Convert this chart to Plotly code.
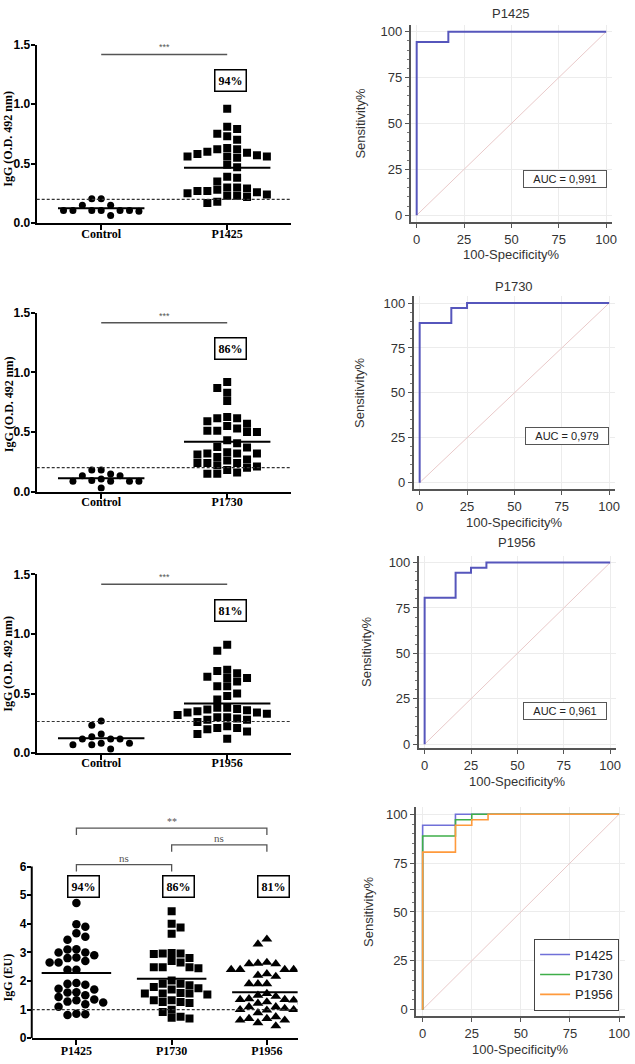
import numpy as np
import plotly.graph_objects as go

W, H = 635, 1064

# ---------------- data ----------------
peptides = ["P1425", "P1730", "P1956"]
control_p1425 = [0.105, 0.105, 0.10, 0.205, 0.15, 0.065, 0.205, 0.15, 0.105, 0.105, 0.105, 0.105]
p1425_od = [0.96, 0.81, 0.79, 0.75, 0.73, 0.70, 0.63, 0.62, 0.62, 0.60, 0.59, 0.58,
            0.57, 0.56, 0.56, 0.56, 0.55, 0.49, 0.47, 0.39, 0.38, 0.35, 0.30, 0.30,
            0.29, 0.28, 0.27, 0.27, 0.26, 0.25, 0.24, 0.23, 0.23, 0.22, 0.18, 0.17]
control_p1730 = [0.105, 0.18, 0.086, 0.133, 0.133, 0.086, 0.03, 0.147, 0.086, 0.18, 0.086, 0.092]
p1730_od = [0.92, 0.87, 0.83, 0.76, 0.625, 0.615, 0.615, 0.59, 0.57, 0.55, 0.53, 0.51,
            0.51, 0.50, 0.50, 0.43, 0.405, 0.375, 0.37, 0.33, 0.32, 0.32, 0.32, 0.31,
            0.29, 0.27, 0.26, 0.24, 0.24, 0.24, 0.22, 0.21, 0.20, 0.18, 0.16, 0.15, 0.15]
control_p1956 = [0.118, 0.082, 0.233, 0.27, 0.137, 0.069, 0.118, 0.033, 0.16, 0.069, 0.082, 0.118]
p1956_od = [0.91, 0.86, 0.70, 0.69, 0.67, 0.64, 0.63, 0.63, 0.60, 0.56, 0.56, 0.50,
            0.48, 0.45, 0.38, 0.38, 0.37, 0.365, 0.36, 0.35, 0.34, 0.34, 0.33, 0.32,
            0.30, 0.30, 0.29, 0.28, 0.28, 0.26, 0.225, 0.21, 0.21, 0.20, 0.18, 0.16, 0.12]
cutoff_od = [0.20, 0.20, 0.265]
positivity = ["94%", "86%", "81%"]
od_ticks = [0.0, 0.5, 1.0, 1.5]

p1425_eu = [4.73, 3.98, 3.90, 3.67, 3.55, 3.44, 3.11, 3.10, 3.00, 3.00, 2.90, 2.82,
            2.80, 2.70, 2.65, 2.65, 2.39, 2.39, 1.93, 1.90, 1.87, 1.73, 1.61, 1.50,
            1.44, 1.35, 1.33, 1.28, 1.25, 1.19, 1.10, 1.60, 1.70, 0.86, 0.84, 0.81]
p1730_eu = [4.44, 4.00, 3.87, 3.65, 2.98, 2.96, 2.96, 2.94, 2.80, 2.70, 2.65, 2.48,
            2.48, 2.48, 2.45, 2.02, 1.90, 1.79, 1.58, 1.56, 1.56, 1.56, 1.53, 1.33,
            1.33, 1.27, 1.27, 1.23, 1.90, 1.75, 1.70, 1.00, 0.92, 1.85, 0.75, 0.72, 0.69]
p1956_eu = [3.46, 3.29, 2.65, 2.62, 2.60, 2.60, 2.40, 2.40, 2.40, 2.40, 2.25, 2.20,
            2.16, 1.90, 1.90, 1.90, 1.56, 1.50, 1.46, 1.38, 1.35, 1.35, 1.33, 1.27,
            1.27, 1.22, 1.10, 1.10, 1.04, 1.00, 1.00, 0.98, 0.89, 0.75, 0.69, 0.69,
            0.63, 0.63, 0.54, 0.43]
cutoff_eu = 1.0
eu_ticks = [0, 1, 2, 3, 4, 5, 6]
eu_comparisons = [("P1425", "P1956", "**"), ("P1730", "P1956", "ns"), ("P1425", "P1730", "ns")]

roc_p1425_fpr = [0, 0, 16.7, 16.7, 100]
roc_p1425_tpr = [0, 94.4, 94.4, 100, 100]
roc_p1730_fpr = [0, 0, 16.7, 16.7, 25, 25, 100]
roc_p1730_tpr = [0, 88.9, 88.9, 97.2, 97.2, 100, 100]
roc_p1956_fpr = [0, 0, 16.7, 16.7, 25, 25, 33.3, 33.3, 100]
roc_p1956_tpr = [0, 80.6, 80.6, 94.4, 94.4, 97.2, 97.2, 100, 100]
diag = [0, 100]
auc_text = ["0,991", "0,979", "0,961"]
roc_ticks = [0, 25, 50, 75, 100]

# ---------------- helpers ----------------
def fx(px):
    return px / W


def fy(py):
    return 1 - py / H


def swarm(vals, sx, sy, w, h, step):
    v = np.asarray(vals, float)
    order = np.argsort(-v, kind="stable")
    placed = []
    offs = np.zeros(len(v))
    for n, i in enumerate(order):
        y = v[i] * sy
        sign = 1 if n % 2 == 0 else -1
        cands = [0.0]
        for k in range(1, 80):
            cands += [sign * k * step, -sign * k * step]
        for c in cands:
            if all(abs(c - px) >= w or abs(y - py) >= h for px, py in placed):
                break
        placed.append((c, y))
        offs[i] = c / sx
    return offs


def aid(i):
    return "" if i == 1 else str(i)


SERIF = "Liberation Serif"
SANS = "Liberation Sans"

fig = go.Figure()
layout = dict(width=W, height=H, margin=dict(l=0, r=0, t=0, b=0),
              paper_bgcolor="white", plot_bgcolor="white", showlegend=True)
shapes, annos = [], []


def anno(**kw):
    kw.setdefault("xanchor", "center")
    kw.setdefault("yanchor", "middle")
    kw.setdefault("showarrow", False)
    annos.append(kw)


# ---------------- left panels 1-3 (OD) ----------------
controls = [control_p1425, control_p1730, control_p1956]
peps_od = [p1425_od, p1730_od, p1956_od]
ydom = [(38, 219), (310, 491), (575, 756)]
ytitle_c = [133, 402, 665]
XS, YS = 127.0, 120.0
for k in range(3):
    i = k + 1
    xr, yr = "x" + aid(i), "y" + aid(i)
    oc = swarm(controls[k], XS, YS, 9.5, 7, 4.75)
    op = swarm(peps_od[k], XS, YS, 8.5, 8, 5)
    fig.add_trace(go.Scatter(x=0 + oc, y=controls[k], mode="markers", xaxis=xr, yaxis=yr,
                             marker=dict(symbol="circle", size=7, color="black"), showlegend=False))
    fig.add_trace(go.Scatter(x=1 + op, y=peps_od[k], mode="markers", xaxis=xr, yaxis=yr,
                             marker=dict(symbol="square", size=8, color="black"), showlegend=False))
    layout["xaxis" + aid(i)] = dict(
        domain=[fx(37), fx(293)], range=[-0.512, 1.504], anchor=yr,
        tickvals=[0, 1], ticktext=["Control", peptides[k]], ticks="outside", ticklen=5,
        tickwidth=1.5, tickcolor="black", showline=True, linewidth=2, linecolor="black",
        showgrid=False, zeroline=False, ticklabelstandoff=-7,
        tickfont=dict(family=SERIF, size=12, color="black", weight="bold"))
    layout["yaxis" + aid(i)] = dict(
        domain=[fy(ydom[k][1]), fy(ydom[k][0])], range=[0, 1.5], anchor=xr,
        tickvals=od_ticks, tickformat=".1f", ticks="outside", ticklen=4, tickwidth=1.5,
        tickcolor="black", showline=True, linewidth=2, linecolor="black",
        showgrid=False, zeroline=False, ticklabelstandoff=-2,
        tickfont=dict(family=SANS, size=12, color="black", weight="bold"))
    for cx, vals in ((0, controls[k]), (1, peps_od[k])):
        m = float(np.mean(vals))
        shapes.append(dict(type="line", xref=xr, yref=yr, x0=cx - 0.343, x1=cx + 0.343,
                           y0=m, y1=m, line=dict(color="black", width=2)))
    shapes.append(dict(type="line", xref=xr + " domain", yref=yr, x0=0, x1=1,
                       y0=cutoff_od[k], y1=cutoff_od[k],
                       line=dict(color="#333", width=1.2, dash="3px,2px")))
    shapes.append(dict(type="line", xref=xr, yref=yr, x0=0, x1=1, y0=1.417, y1=1.417,
                       line=dict(color="#555", width=1.5)))
    anno(text="***", x=0.5, y=1.417, xref=xr, yref=yr, yanchor="bottom",
         font=dict(family=SANS, size=9, color="#555"))
    anno(text="<b>" + positivity[k] + "</b>", x=1.03, y=1.2, xref=xr, yref=yr,
         bordercolor="black", borderwidth=1.5, borderpad=3,
         bgcolor="white", font=dict(family=SERIF, size=12, color="black"))
    anno(text="<b>IgG (O.D. 492 nm)</b>", textangle=-90, x=fx(8.5), y=fy(ytitle_c[k]),
         xref="paper", yref="paper", font=dict(family=SERIF, size=12, color="black"))

# ---------------- left panel 4 (EU) ----------------
XS4, YS4 = 96.0, 29.0
symbols = ["circle", "square", "triangle-up"]
sizes = [8.5, 8, 9.5]
peps_eu = [p1425_eu, p1730_eu, p1956_eu]
for j in range(3):
    o = swarm(peps_eu[j], XS4, YS4, 8.5, 8, 4.5)
    fig.add_trace(go.Scatter(x=j + o, y=peps_eu[j], mode="markers", xaxis="x4", yaxis="y4",
                             marker=dict(symbol=symbols[j], size=sizes[j], color="black"),
                             showlegend=False))
    m = float(np.mean(peps_eu[j]))
    shapes.append(dict(type="line", xref="x4", yref="y4", x0=j - 0.365, x1=j + 0.365,
                       y0=m, y1=m, line=dict(color="black", width=2)))
    anno(text="<b>" + positivity[j] + "</b>", x=j + 0.07, y=5.3, xref="x4", yref="y4",
         bordercolor="black", borderwidth=1.5, borderpad=3,
         bgcolor="white", font=dict(family=SERIF, size=12, color="black"))
layout["xaxis4"] = dict(
    domain=[fx(32), fx(300)], range=[-0.469, 2.323], anchor="y4",
    tickvals=[0, 1, 2], ticktext=peptides, ticks="outside", ticklen=5, tickwidth=1.5,
    tickcolor="black", showline=True, linewidth=2, linecolor="black", showgrid=False,
    zeroline=False, ticklabelstandoff=-5,
    tickfont=dict(family=SERIF, size=12, color="black", weight="bold"))
layout["yaxis4"] = dict(
    domain=[fy(1045), fy(1045 - 7.5 * YS4)], range=[0, 7.5], anchor="x4",
    tickvals=eu_ticks, ticks="outside", ticklen=4, tickwidth=1.5, tickcolor="black",
    showline=False, showgrid=False, zeroline=False, ticklabelstandoff=-2,
    tickfont=dict(family=SANS, size=12, color="black", weight="bold"))
shapes.append(dict(type="line", xref="x4 domain", yref="y4", x0=0, x1=0, y0=0, y1=eu_ticks[-1],
                   line=dict(color="black", width=2)))
shapes.append(dict(type="line", xref="x4 domain", yref="y4", x0=0, x1=1,
                   y0=cutoff_eu, y1=cutoff_eu, line=dict(color="#333", width=1.2, dash="3px,2px")))
bracket_y = [7.34, 6.76, 6.07]
for (a, b, lab), by in zip(eu_comparisons, bracket_y):
    xa, xb = peptides.index(a), peptides.index(b)
    shapes.append(dict(type="path", xref="x4", yref="y4",
                       path=f"M {xa},{by - 0.24} L {xa},{by} L {xb},{by} L {xb},{by - 0.24}",
                       line=dict(color="#555", width=1.3)))
    anno(text=lab, x=(xa + xb) / 2, y=by, xref="x4", yref="y4", yanchor="bottom", yshift=-1,
         font=dict(family=SERIF, size=11 if lab == "ns" else 10, color="#555"))
anno(text="<b>IgG (EU)</b>", textangle=-90, x=fx(8.5), y=fy(983),
     xref="paper", yref="paper", font=dict(family=SERIF, size=12, color="black"))

# ---------------- ROC panels ----------------
roc_geo = [  # x0px, xscale, y0px, yscale, xrange, yrange
    (420, 1.91, 211, 1.86, (-3.2, 103.2), (-3.8, 103.8)),
    (423, 1.91, 482, 1.82, (-3.2, 103.2), (-3.8, 103.8)),
    (428, 1.87, 747, 1.84, (-3.2, 103.2), (-2.2, 103.8)),
    (426, 1.98, 1016, 1.98, (-3.4, 103.0), (-3.4, 103.5)),
]
roc_titles = [("P1425", 7), ("P1730", 283), ("P1956", 543), (None, None)]
xlabel_y = [251, 522, 785, 1056]
ylabel_x = [363, 363, 370, 372]
auc_pos = [(78.5, 19.9), (77.7, 25.8), (75.7, 18.5)]
roc_fprs = [roc_p1425_fpr, roc_p1730_fpr, roc_p1956_fpr]
roc_tprs = [roc_p1425_tpr, roc_p1730_tpr, roc_p1956_tpr]
roc_colors4 = ["#7070d8", "#3fae49", "#ff9a3c"]

for r in range(4):
    i = r + 5
    xr, yr = "x" + str(i), "y" + str(i)
    x0, xs, y0, ys, xrg, yrg = roc_geo[r]
    left, right = x0 + xrg[0] * xs, x0 + xrg[1] * xs
    bottom, top = y0 - yrg[0] * ys, y0 - yrg[1] * ys
    fig.add_trace(go.Scatter(x=diag, y=diag, mode="lines", xaxis=xr, yaxis=yr,
                             line=dict(color="#e9c9c9", width=1), showlegend=False))
    if r < 3:
        fig.add_trace(go.Scatter(x=roc_fprs[r], y=roc_tprs[r], mode="lines", xaxis=xr, yaxis=yr,
                                 line=dict(color="#5656bc", width=2), showlegend=False))
        ax_, ay_ = auc_pos[r]
        anno(text="AUC = " + auc_text[r], x=ax_, y=ay_, xref=xr, yref=yr,
             bordercolor="#555", borderwidth=1, borderpad=2,
             width=78, bgcolor="white", font=dict(family=SANS, size=11, color="#222"))
    else:
        for j in range(3):
            fig.add_trace(go.Scatter(x=roc_fprs[j], y=roc_tprs[j], mode="lines", xaxis=xr, yaxis=yr,
                                     name=peptides[j], line=dict(color=roc_colors4[j], width=1.6),
                                     showlegend=True))
    common = dict(showline=True, linewidth=1.5, linecolor="#555", showgrid=True,
                  gridcolor="#ececec", gridwidth=1, zeroline=False, ticks="outside",
                  ticklen=4, tickcolor="#555", tickvals=roc_ticks,
                  tickfont=dict(family=SANS, size=13, color="#333"))
    layout["xaxis" + str(i)] = dict(domain=[fx(left), fx(right)], range=list(xrg), anchor=yr, **common)
    layout["yaxis" + str(i)] = dict(domain=[fy(bottom), fy(top)], range=list(yrg), anchor=xr,
                                    minor=dict(dtick=5, ticks="outside", ticklen=2, tickcolor="#777",
                                               showgrid=False), **common)
    cx = (fx(x0) + fx(x0 + 100 * xs)) / 2
    if roc_titles[r][0]:
        anno(text=roc_titles[r][0], x=cx, y=fy(roc_titles[r][1]), xref="paper",
             yref="paper", font=dict(family=SANS, size=13, color="#333"))
    anno(text="100-Specificity%", x=cx, y=fy(xlabel_y[r]), xref="paper", yref="paper",
         font=dict(family=SANS, size=13, color="#333"))
    anno(text="Sensitivity%", textangle=-90, x=fx(ylabel_x[r]), y=fy((top + bottom) / 2),
         xref="paper", yref="paper", font=dict(family=SANS, size=13, color="#333"))

layout["legend"] = dict(x=fx(624), xanchor="right", y=fy(1017), yanchor="bottom",
                        bordercolor="#444", borderwidth=1, bgcolor="white",
                        font=dict(family=SANS, size=13, color="#222"), tracegroupgap=0,
                        itemwidth=30)
layout["shapes"] = shapes
layout["annotations"] = annos
fig.update_layout(**layout)
fig.write_html("out.html")
